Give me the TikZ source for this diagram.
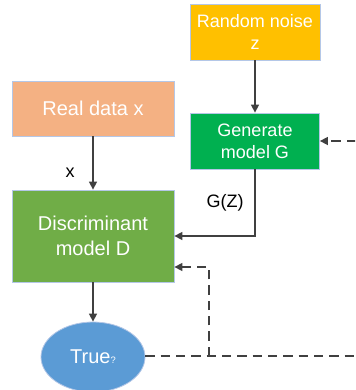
\documentclass[tikz,border=0pt]{standalone}
\usepackage{fontspec}
\setmainfont{Liberation Sans}
\usetikzlibrary{arrows.meta,shapes.geometric}
\definecolor{noiseC}{HTML}{FFC000}
\definecolor{realC}{HTML}{F4B183}
\definecolor{genC}{HTML}{00B050}
\definecolor{discC}{HTML}{70AD47}
\definecolor{trueC}{HTML}{5B9BD5}
\definecolor{lineC}{HTML}{404040}
\definecolor{edgeC}{HTML}{B4C7E7}
\newcommand\pxu{0.75pt}
\tikzset{
  box/.style={rectangle, draw=edgeC, line width=0.6pt, text=white, align=center, inner sep=0pt},
  arr/.style={draw=lineC, line width=1.1pt, -{Triangle[length=6pt,width=6pt]}},
  darr/.style={draw=lineC, line width=1.1pt, dash pattern=on 7pt off 4.5pt},
  lbl/.style={text=black, inner sep=0pt, font=\fontsize{13.5}{16}\selectfont}
}
\begin{document}
\begin{tikzpicture}[x=0.75pt,y=-0.75pt]
\clip (0,0) rectangle (355,390);
\useasboundingbox (0,0) rectangle (355,390);
\node[box, fill=noiseC, minimum width=130*\pxu, minimum height=56*\pxu,
      font=\fontsize{13.5}{16.5}\selectfont] (rn) at (255,32) {Random noise\\z};
\node[box, fill=realC, minimum width=162*\pxu, minimum height=55*\pxu,
      font=\fontsize{15}{18}\selectfont] (real) at (93,108.5) {Real data x};
\node[box, fill=genC, minimum width=129*\pxu, minimum height=56*\pxu,
      font=\fontsize{13.5}{16.5}\selectfont] (gen) at (255,141) {Generate\\model G};
\node[box, fill=discC, minimum width=162*\pxu, minimum height=92*\pxu,
      font=\fontsize{15}{18.75}\selectfont] (disc) at (93,236) {Discriminant\\model D};
\node[ellipse, draw=edgeC, line width=0.6pt, fill=trueC, text=white, inner sep=0pt,
      minimum width=104*\pxu, minimum height=70*\pxu,
      font=\fontsize{15}{18}\selectfont] (true) at (93,357) {True{\fontsize{7}{8}\selectfont ?}};
\draw[arr] (rn.south) -- (gen.north);
\draw[arr] (real.south) -- (disc.north);
\draw[arr] (gen.south) |- (disc.east);
\draw[arr] (disc.south) -- (true.north);
\node[lbl] (lx) at (70,173) {x};
\node[lbl] (lg) at (225,203) {G(Z)};
\coordinate (r1) at (356,141);
\coordinate (r2) at (356,356);
\coordinate (j) at (209,356);
\coordinate (k) at (209,267);
\draw[darr, -{Triangle[length=6pt,width=6pt]}] (r1) -- (gen.east);
\draw[darr] (true.east |- r2) -- (r2);
\draw[darr, -{Triangle[length=6pt,width=6pt]}] (j) -- (k) -- (disc.east |- k);
\end{tikzpicture}
\end{document}
